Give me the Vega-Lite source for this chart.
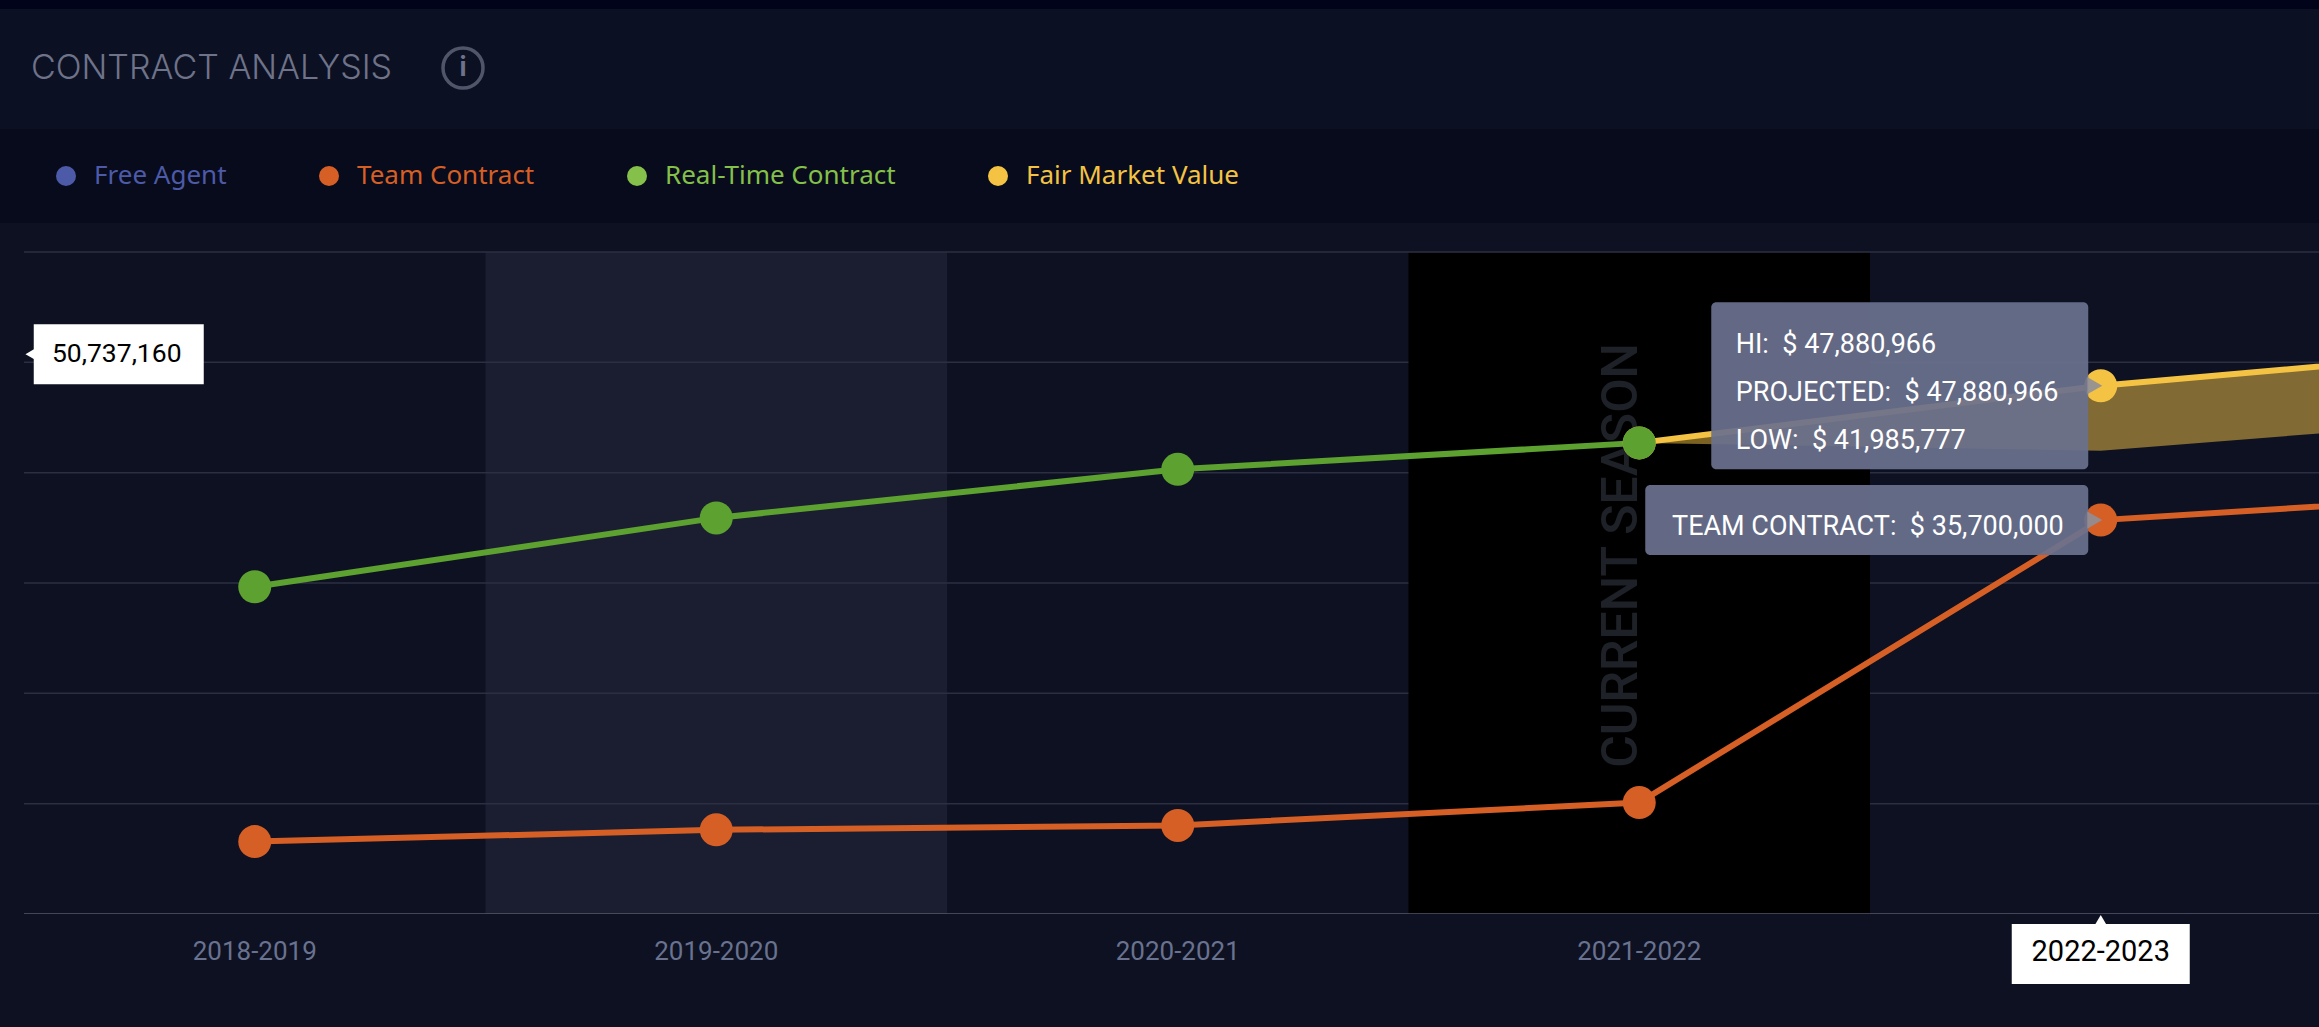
{
"$schema":"https://vega.github.io/schema/vega-lite/v6.json",
"background":"#0d1122",
"padding":{"left":0,"top":0,"right":0,"bottom":43},
"spacing":0,
"bounds":"flush",
"datasets":{
"series":[
{"season":"2018-2019","series":"Team Contract","value":6560000},
{"season":"2019-2020","series":"Team Contract","value":7630000},
{"season":"2020-2021","series":"Team Contract","value":8030000},
{"season":"2021-2022","series":"Team Contract","value":10100000},
{"season":"2022-2023","series":"Team Contract","value":35700000},
{"season":"2023-2024","series":"Team Contract","value":38300000},
{"season":"2021-2022","series":"Fair Market Value","value":42700000},
{"season":"2022-2023","series":"Fair Market Value","value":47880966},
{"season":"2023-2024","series":"Fair Market Value","value":51550000},
{"season":"2018-2019","series":"Real-Time Contract","value":29660000},
{"season":"2019-2020","series":"Real-Time Contract","value":35900000},
{"season":"2020-2021","series":"Real-Time Contract","value":40300000},
{"season":"2021-2022","series":"Real-Time Contract","value":42700000}
],
"range":[
{"season":"2021-2022","hi":42700000,"low":42700000},
{"season":"2022-2023","hi":47880966,"low":41985777},
{"season":"2023-2024","hi":51550000,"low":45300000}
],
"shades":[{"season":"2019-2020","kind":"alternate"},{"season":"2021-2022","kind":"current"}],
"grid":[{"value":10000000,"from":"2018-2019","to":"2023-2024"},{"value":20000000,"from":"2018-2019","to":"2023-2024"},{"value":30000000,"from":"2018-2019","to":"2023-2024"},{"value":40000000,"from":"2018-2019","to":"2023-2024"},{"value":50000000,"from":"2018-2019","to":"2023-2024"}],
"frame":[{"value":0,"from":"2018-2019","to":"2023-2024","edge":"base"},{"value":60000000,"from":"2018-2019","to":"2023-2024","edge":"top"}],
"legend":[{"series":"Free Agent"},{"series":"Team Contract"},{"series":"Real-Time Contract"},{"series":"Fair Market Value"}],
"tips":[{"season":"2022-2023","value":47880966,"hi":"HI:\u00a0 $ 47,880,966","projected":"PROJECTED:\u00a0 $ 47,880,966","low":"LOW:\u00a0 $ 41,985,777"}],
"team":[{"season":"2022-2023","value":35700000,"label":"TEAM CONTRACT:\u00a0 $ 35,700,000"}],
"cursorY":[{"season":"2018-2019","value":50737160,"label":"50,737,160"}],
"cursorX":[{"season":"2022-2023","value":0}],
"current":[{"season":"2021-2022","label":"CURRENT SEASON"}]
},
"vconcat":[
{"width":2319,"height":9,"view":{"fill":"#01031a","stroke":null},"data":{"values":[{"a":1}]},"mark":{"type":"point","opacity":0},"encoding":{}},
{"width":2319,"height":120,"view":{"fill":"#0c1023","stroke":null},
"title":{"text":"CONTRACT ANALYSIS","anchor":"start","frame":"group","dx":31,"offset":-104,"baseline":"alphabetic","font":"Inter","fontWeight":300,"fontSize":34,"color":"#6e7389"},
"data":{"values":[{"icon":"i"}]},
"layer":[
{"mark":{"type":"point","filled":false,"size":1600,"strokeWidth":3.5,"color":"#6e7389"},
"encoding":{"x":{"field":"icon","type":"nominal","axis":null,"scale":{"type":"point","domain":["i"],"range":[463,463]}},"y":{"field":"icon","type":"nominal","axis":null,"scale":{"type":"point","domain":["i"],"range":[59,59]}}}},
{"mark":{"type":"text","font":"Inter","fontSize":26,"fontWeight":"bold","color":"#6e7389","baseline":"middle","align":"center"},
"encoding":{"x":{"field":"icon","type":"nominal","axis":null,"scale":{"type":"point","domain":["i"],"range":[463,463]}},"y":{"field":"icon","type":"nominal","axis":null,"scale":{"type":"point","domain":["i"],"range":[59,59]}},"text":{"field":"icon"}}}
]},
{"width":2319,"height":94,"view":{"fill":"#080b1b","stroke":null},"data":{"values":[{"a":1}]},"mark":{"type":"point","opacity":0},"encoding":{}},
{"width":2319,"height":691,"view":{"fill":"#0d1122","stroke":null},
"layer":[
{"data":{"name":"shades"},"transform":[{"filter":"datum.kind=='alternate'"}],"mark":{"type":"rect","color":"#1a1e30"},
"encoding":{"x":{"field":"season","type":"nominal","scale":{"type":"band","domain":["2018-2019","2019-2020","2020-2021","2021-2022","2022-2023","2023-2024"],"range":[24,2793],"padding":0},
"axis":{"values":["2018-2019","2019-2020","2020-2021","2021-2022"],"title":null,"grid":false,"domain":false,"ticks":false,"labelAngle":0,"labelPadding":24,"labelFont":"Roboto","labelFontSize":26,"labelColor":"#69728f"}},
"y":{"datum":0,"type":"quantitative","axis":null,"scale":{"domain":[0,60000000],"range":[691,29],"nice":false}},"y2":{"datum":60000000}}},
{"data":{"name":"grid"},"mark":{"type":"rule","clip":true,"color":"#2c2f42","strokeWidth":1.5},"encoding":{"x":{"field":"from","bandPosition":0,"type":"nominal"},"x2":{"field":"to"},"y":{"field":"value","type":"quantitative"}}},
{"data":{"name":"shades"},"transform":[{"filter":"datum.kind=='current'"}],"mark":{"type":"rect","color":"#000000"},"encoding":{"x":{"field":"season","type":"nominal"},"y":{"datum":0,"type":"quantitative"},"y2":{"datum":60000000}}},
{"data":{"name":"frame"},"transform":[{"filter":"datum.edge=='top'"}],"mark":{"type":"rule","clip":true,"color":"#2c2f42","strokeWidth":1.5},"encoding":{"x":{"field":"from","bandPosition":0,"type":"nominal"},"x2":{"field":"to"},"y":{"field":"value","type":"quantitative"}}},
{"data":{"name":"frame"},"transform":[{"filter":"datum.edge=='base'"}],"mark":{"type":"rule","clip":true,"color":"#555868","strokeWidth":1.5},"encoding":{"x":{"field":"from","bandPosition":0,"type":"nominal"},"x2":{"field":"to"},"y":{"field":"value","type":"quantitative"}}},
{"data":{"name":"current"},"mark":{"type":"text","angle":270,"align":"center","baseline":"middle","xOffset":-17,"font":"Roboto","fontWeight":500,"fontSize":50,"color":"#1e2228"},"encoding":{"x":{"field":"season","type":"nominal"},"y":{"datum":32500000,"type":"quantitative"},"text":{"field":"label"}}},
{"data":{"name":"range"},"mark":{"type":"area","clip":true,"color":"#f5c344","opacity":0.5},"encoding":{"x":{"field":"season","type":"nominal"},"y":{"field":"hi","type":"quantitative"},"y2":{"field":"low"}}},
{"data":{"name":"series"},"mark":{"type":"line","clip":true,"strokeWidth":6},"encoding":{"x":{"field":"season","type":"nominal"},"y":{"field":"value","type":"quantitative"},"stroke":{"field":"series","type":"nominal","legend":null,"scale":{"domain":["Team Contract","Fair Market Value","Real-Time Contract"],"range":["#d65f26","#f5c344","#5da130"]}}}},
{"data":{"name":"series"},"mark":{"type":"point","clip":true,"filled":true,"opacity":1,"size":1089},"encoding":{"x":{"field":"season","type":"nominal"},"y":{"field":"value","type":"quantitative"},"fill":{"field":"series","type":"nominal","legend":null,"scale":{"domain":["Team Contract","Fair Market Value","Real-Time Contract"],"range":["#d65f26","#f5c344","#5da130"]}}}},
{"data":{"name":"legend"},"mark":{"type":"point","filled":true,"opacity":0},"encoding":{"color":{"field":"series","type":"nominal","scale":{"domain":["Free Agent","Team Contract","Real-Time Contract","Fair Market Value"],"range":["#4d5aa8","#d65f26","#84c04a","#f5c344"]},
"legend":{"orient":"none","legendX":53,"legendY":163,"direction":"horizontal","title":null,"gridAlign":"none","columnPadding":89,"symbolType":"circle","symbolSize":400,"symbolOpacity":1,"labelFont":"Noto Sans","labelFontSize":26,"labelLimit":400,"labelOpacity":1,"padding":0,"labelOffset":15,"labelColor":{"expr":"{'Free Agent':'#4d5aa8','Team Contract':'#d65f26','Real-Time Contract':'#84c04a','Fair Market Value':'#f5c344'}[datum.label]"}}}}},
{"data":{"name":"tips"},"mark":{"type":"rect","width":377,"height":167,"xOffset":-201,"yOffset":0,"cornerRadius":5,"color":"#6a718e","opacity":0.93},"encoding":{"x":{"field":"season","type":"nominal"},"y":{"field":"value","type":"quantitative"}}},
{"data":{"name":"tips"},"mark":{"type":"point","shape":"triangle-right","filled":true,"size":300,"xOffset":-6,"color":"#8f8f98","opacity":0.9},"encoding":{"x":{"field":"season","type":"nominal"},"y":{"field":"value","type":"quantitative"}}},
{"data":{"name":"tips"},"mark":{"type":"text","align":"left","baseline":"middle","dx":-365,"dy":-41,"font":"Roboto","fontSize":27,"color":"#ffffff"},"encoding":{"x":{"field":"season","type":"nominal"},"y":{"field":"value","type":"quantitative"},"text":{"field":"hi"}}},
{"data":{"name":"tips"},"mark":{"type":"text","align":"left","baseline":"middle","dx":-365,"dy":7,"font":"Roboto","fontSize":27,"color":"#ffffff"},"encoding":{"x":{"field":"season","type":"nominal"},"y":{"field":"value","type":"quantitative"},"text":{"field":"projected"}}},
{"data":{"name":"tips"},"mark":{"type":"text","align":"left","baseline":"middle","dx":-365,"dy":55,"font":"Roboto","fontSize":27,"color":"#ffffff"},"encoding":{"x":{"field":"season","type":"nominal"},"y":{"field":"value","type":"quantitative"},"text":{"field":"low"}}},
{"data":{"name":"team"},"mark":{"type":"rect","width":443,"height":70,"xOffset":-234,"cornerRadius":5,"color":"#6a718e","opacity":0.93},"encoding":{"x":{"field":"season","type":"nominal"},"y":{"field":"value","type":"quantitative"}}},
{"data":{"name":"team"},"mark":{"type":"point","shape":"triangle-right","filled":true,"size":300,"xOffset":-6,"color":"#8f8f98","opacity":0.9},"encoding":{"x":{"field":"season","type":"nominal"},"y":{"field":"value","type":"quantitative"}}},
{"data":{"name":"team"},"mark":{"type":"text","align":"right","baseline":"middle","dx":-37,"dy":7,"font":"Roboto","fontSize":27,"color":"#ffffff"},"encoding":{"x":{"field":"season","type":"nominal"},"y":{"field":"value","type":"quantitative"},"text":{"field":"label"}}},
{"data":{"name":"cursorY"},"mark":{"type":"rect","width":170,"height":60,"xOffset":-136,"color":"#ffffff"},"encoding":{"x":{"field":"season","type":"nominal"},"y":{"field":"value","type":"quantitative"}}},
{"data":{"name":"cursorY"},"mark":{"type":"point","shape":"triangle-left","filled":true,"size":150,"xOffset":-224,"color":"#ffffff","opacity":1},"encoding":{"x":{"field":"season","type":"nominal"},"y":{"field":"value","type":"quantitative"}}},
{"data":{"name":"cursorY"},"mark":{"type":"text","align":"center","baseline":"middle","xOffset":-138,"font":"Roboto","fontSize":26.5,"color":"#000000"},"encoding":{"x":{"field":"season","type":"nominal"},"y":{"field":"value","type":"quantitative"},"text":{"field":"label"}}},
{"data":{"name":"cursorX"},"mark":{"type":"rect","width":178,"height":60,"yOffset":40,"color":"#ffffff"},"encoding":{"x":{"field":"season","type":"nominal"},"y":{"field":"value","type":"quantitative"}}},
{"data":{"name":"cursorX"},"mark":{"type":"point","shape":"triangle-up","filled":true,"size":200,"yOffset":7,"color":"#ffffff","opacity":1},"encoding":{"x":{"field":"season","type":"nominal"},"y":{"field":"value","type":"quantitative"}}},
{"data":{"name":"cursorX"},"mark":{"type":"text","align":"center","baseline":"middle","yOffset":38,"font":"Roboto","fontSize":29,"color":"#000000"},"encoding":{"x":{"field":"season","type":"nominal"},"y":{"field":"value","type":"quantitative"},"text":{"field":"season"}}}
],
"resolve":{"scale":{"fill":"independent"}}
}
]
}
